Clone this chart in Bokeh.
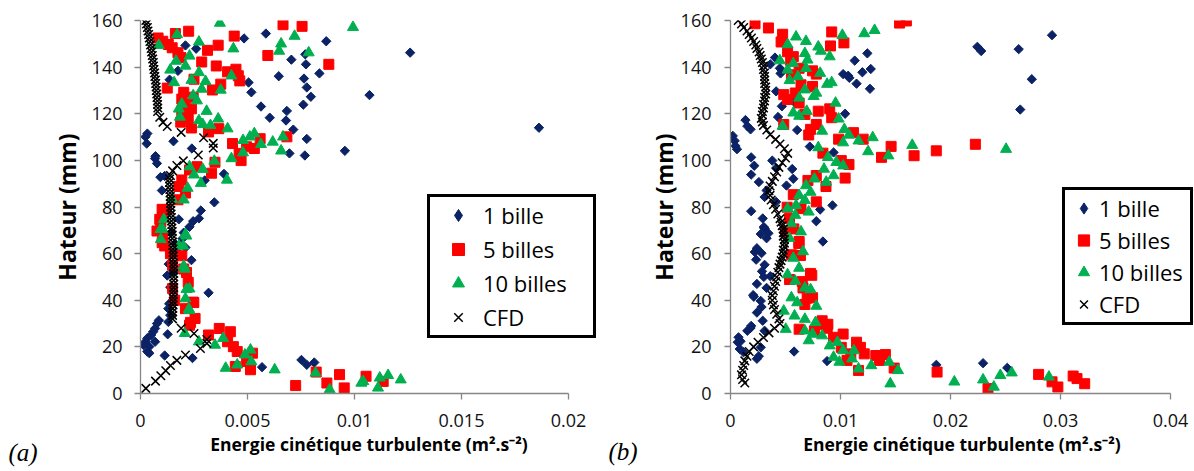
import numpy as np
from bokeh.plotting import figure
from bokeh.layouts import row
from bokeh.models import Range1d, FixedTicker, Legend, LegendItem, Label, PrintfTickFormatter
from bokeh.embed import file_html
from bokeh.resources import INLINE

# ---------------- data ----------------
SERIES = ["1 bille", "5 billes", "10 billes", "CFD"]
Y_TICKS = [0, 20, 40, 60, 80, 100, 120, 140, 160]
XA_TICKS = [0, 0.005, 0.01, 0.015, 0.02]
XA_LABELS = ["0", "0.005", "0.01", "0.015", "0.02"]
XB_TICKS = [0, 0.01, 0.02, 0.03, 0.04]
XB_LABELS = ["0", "0.01", "0.02", "0.03", "0.04"]
X_TITLE = "Energie cinétique turbulente (m².s⁻²)"
Y_TITLE = "Hateur (mm)"

# panel (a) : (k, hauteur)
A_1BILLE = [(0.00586,154.4),(0.00484,152.3),(0.0021,149.3),(0.0026,147.9),(0.00868,151.1),(0.0126,146.2),
    (0.0077,145.5),(0.00705,143.2),(0.00773,141.2),(0.00175,138.4),(0.00836,137.3),(0.00646,136.1),
    (0.00764,135.1),(0.00505,133.4),(0.00777,131.3),(0.00518,129.2),(0.0107,128.0),(0.00796,127.3),
    (0.00761,123.9),(0.00563,123.1),(0.00684,121.2),(0.00604,118.3),(0.0068,117.1),(0.00714,113.2),
    (0.01862,114.0),(0.00032,111.5),(0.00023,110.1),(0.00029,107.2),(0.00154,108.2),(0.00777,109.2),
    (0.00955,104.1),(0.00696,103.0),(0.00768,102.1),(0.0024,105.1),(0.00068,100.8),(0.00077,98.7),
    (0.0039,94.2),(0.00113,93.3),(0.003,91.4),(0.001,87.1),(0.00345,82.0),(0.00282,78.5),(0.00273,75.1),
    (0.00246,73.9),(0.00229,71.5),(0.00202,69.0),(0.00196,66.4),(0.0021,62.6),(0.00175,60.5),(0.00238,57.2),
    (0.00132,55.5),(0.00125,50.6),(0.00154,52.3),(0.00139,45.6),(0.00318,43.2),(0.00134,38.5),(0.0013,36.4),
    (0.00139,33.6),(0.0013,30.7),(0.00086,31.4),(0.00077,30.0),(0.00068,27.9),(0.00059,26.5),(0.0005,25.1),
    (0.00032,23.7),(0.00023,22.2),(0.00014,20.8),(0.00041,20.1),(0.00068,22.2),(0.00032,18.0),(0.00041,17.3),
    (0.00127,25.4),(0.00113,16.3),(0.00243,15.2),(0.00568,11.3),(0.00752,14.4),(0.00777,12.3),(0.00812,13.3),
    (0.00164,64.0),(0.00143,69.0),(0.00179,74.7),(0.00136,134.6),(0.0007,101.8),(0.00093,92.8)]
A_5BILLES = [(0.00666,158.2),(0.00755,157.5),(0.00163,154.4),(0.00225,155.4),(0.00438,153.3),(0.00082,152.5),
    (0.00104,151.1),(0.0013,149.7),(0.00363,149.4),(0.00148,148.3),(0.00313,147.2),(0.00175,146.2),
    (0.00595,145.0),(0.00189,144.1),(0.0088,141.2),(0.00286,142.2),(0.00354,140.5),(0.00446,139.1),
    (0.00407,138.0),(0.00457,136.3),(0.00464,134.1),(0.0025,134.8),(0.00375,132.7),(0.00125,131.0),
    (0.00336,130.2),(0.00202,129.2),(0.00193,126.3),(0.00246,127.1),(0.00207,124.2),(0.00238,122.1),
    (0.00193,120.0),(0.00223,118.3),(0.00188,116.4),(0.00238,113.9),(0.00318,112.2),(0.00366,113.6),
    (0.00559,109.3),(0.00684,110.1),(0.0043,107.2),(0.00496,105.8),(0.00532,105.1),(0.00461,103.0),
    (0.0047,99.9),(0.00348,99.2),(0.00332,94.5),(0.00264,97.3),(0.00229,95.9),(0.00193,91.6),(0.00179,88.8),
    (0.0021,86.0),(0.00175,83.1),(0.00121,78.9),(0.00104,76.1),(0.00095,73.5),(0.00077,69.7),(0.00104,66.9),
    (0.00113,63.3),(0.00193,59.1),(0.00202,53.4),(0.00223,47.7),(0.00246,39.2),(0.0021,36.4),(0.00255,32.2),
    (0.00229,29.3),(0.00318,25.1),(0.00368,27.9),(0.0042,26.5),(0.00407,22.2),(0.00434,20.1),(0.00452,18.0),
    (0.00523,17.3),(0.00496,13.7),(0.00443,11.6),(0.00514,10.2),(0.00725,3.4),(0.00821,9.2),(0.00871,4.5),
    (0.0093,8.1),(0.00952,2.4),(0.01054,7.4),(0.01134,5.2),(0.00101,64.7),(0.0009,74.7),(0.00101,79.0),
    (0.00215,51.9),(0.00249,39.0),(0.00234,30.5),(0.0015,45.0),(0.0015,55.0),(0.0016,40.0),(0.0014,60.0)]
A_10BILLES = [(0.00371,158.9),(0.00993,157.1),(0.00171,154.0),(0.00273,150.8),(0.0072,153.3),(0.00657,150.0),
    (0.00434,147.9),(0.00648,146.9),(0.00786,146.2),(0.00086,149.4),(0.00229,144.8),(0.00166,142.6),
    (0.0021,140.5),(0.00139,138.8),(0.00273,137.7),(0.00425,136.3),(0.00238,134.4),(0.00304,133.9),
    (0.00157,133.4),(0.00286,130.6),(0.00375,130.2),(0.00246,127.8),(0.00264,125.6),(0.00193,124.2),
    (0.00179,122.1),(0.00309,121.1),(0.00184,118.6),(0.00273,117.1),(0.00363,117.8),(0.00291,115.4),
    (0.00327,115.0),(0.00407,113.6),(0.00479,108.6),(0.00532,111.5),(0.00511,110.1),(0.00563,106.9),
    (0.00618,107.9),(0.00666,110.1),(0.00657,104.1),(0.00479,103.3),(0.00425,100.8),(0.00345,99.7),
    (0.00291,96.2),(0.00229,97.3),(0.00404,91.6),(0.0025,93.8),(0.00282,90.2),(0.0022,88.1),(0.00202,83.1),
    (0.00104,70.4),(0.00095,66.1),(0.00214,67.6),(0.00179,63.3),(0.00207,53.4),(0.00229,44.9),(0.0021,40.7),
    (0.00229,35.7),(0.00207,25.8),(0.00273,22.2),(0.00348,20.8),(0.00386,23.7),(0.00398,10.9),(0.00452,12.3),
    (0.00488,16.6),(0.00514,18.7),(0.00518,13.7),(0.00627,10.2),(0.00818,8.8),(0.00884,1.7),(0.01032,4.5),
    (0.0111,2.4),(0.01118,6.7),(0.01157,7.8),(0.01216,5.9),(0.01041,5.2),(0.0021,68.3),(0.002,63.3),
    (0.00202,54.7),(0.00215,44.7),(0.00226,36.2),(0.00093,70.4),(0.00109,74.7),(0.00148,83.3)]
A_CFD = [(0.00025,160),(0.00028,158.5),(0.00032,157),(0.00035,155.5),(0.00038,154),(0.00041,152.5),
    (0.00044,151),(0.00047,149.5),(0.0005,148),(0.00052,146.5),(0.00055,145),(0.00057,143.5),(0.0006,142),
    (0.00061,140.5),(0.00063,139),(0.00066,137.5),(0.00067,136),(0.0007,134.5),(0.00071,133),(0.00073,131.5),
    (0.00074,130),(0.00076,128.5),(0.00077,127),(0.00079,125.5),(0.0008,124),(0.00081,122.5),(0.0008,121),
    (0.0009,118.5),(0.00105,116.3),(0.00125,114.5),(0.0019,112.0),(0.00295,109.7),(0.0034,107.3),
    (0.0034,105.3),(0.0027,102.3),(0.002,99.8),(0.0017,97.8),(0.0015,95.5),(0.0014,93.5),
    (0.00136,92),(0.00135,90.5),(0.00136,89),(0.00137,87.5),(0.00138,86),(0.00139,84.5),(0.0014,83),
    (0.0014,81.5),(0.00141,80),(0.00142,78.5),(0.00143,77),(0.00144,75.5),(0.00145,74),(0.00146,72.5),
    (0.00147,71),(0.00148,69.5),(0.00148,68),(0.00149,66.5),(0.0015,65),(0.00151,63.5),(0.00152,62),
    (0.00152,60.5),(0.00153,59),(0.00153,57.5),(0.00154,56),(0.00154,54.5),(0.00155,53),(0.00155,51.5),
    (0.00155,50),(0.00155,48.5),(0.00155,47),(0.00155,45.5),(0.00154,44),(0.00154,42.5),(0.00153,41),
    (0.00153,39.5),(0.00152,38),(0.00151,36.5),(0.0015,35),(0.0015,33.5),(0.0015,32),
    (0.0019,28.0),(0.0025,25.7),(0.0031,23.2),(0.0031,21.5),(0.0028,19.3),(0.0021,16.5),(0.0017,14.2),
    (0.0014,12.0),(0.00118,9.8),(0.00095,7.6),(0.0007,5.3),(0.00025,2.2)]

# panel (b)
B_1BILLE = [(0.02923,153.7),(0.02244,148.7),(0.02279,146.9),(0.0262,147.7),(0.02739,134.8),(0.02634,121.8),
    (0.01244,145.9),(0.01129,142.8),(0.01275,139.2),(0.01199,137.8),(0.01024,137.0),(0.0107,136.3),
    (0.01146,132.9),(0.01268,130.7),(0.01042,120.0),(0.00404,144.1),(0.00362,141.2),(0.00449,139.5),
    (0.00415,129.6),(0.00467,123.2),(0.00432,118.6),(0.00606,113.0),(0.00721,105.9),(0.00937,103.4),
    (0.00578,125.1),(0.00021,110.5),(0.00038,108.4),(0.00059,104.8),(0.00045,106.2),(0.00136,117.3),
    (0.00153,114.7),(0.00188,101.3),(0.00216,97.7),(0.00188,93.9),(0.00258,90.7),(0.0038,99.9),
    (0.00415,96.7),(0.00561,96.3),(0.00571,92.1),(0.00509,89.2),(0.00328,87.1),(0.0031,84.3),(0.00415,82.2),
    (0.00927,80.7),(0.00815,78.9),(0.0078,73.9),(0.0084,65.2),(0.00188,78.2),(0.00293,75.1),(0.0031,70.8),
    (0.00275,68.4),(0.00328,66.6),(0.00345,68.7),(0.0024,62.3),(0.00282,60.2),(0.00233,57.4),(0.0031,55.2),
    (0.00286,52.4),(0.00362,50.3),(0.0024,47.0),(0.00328,45.3),(0.00206,42.2),(0.00275,39.7),(0.00282,37.1),
    (0.0024,34.7),(0.00293,31.2),(0.00188,29.0),(0.00153,26.9),(0.0031,26.9),(0.00073,24.1),(0.00066,22.0),
    (0.00084,19.1),(0.00118,17.7),(0.0024,14.9),(0.00275,19.8),(0.00578,18.0),(0.00878,13.9),(0.01871,12.3),
    (0.02296,13.0),(0.02516,11.0),(0.00182,113.3),(0.00455,137.3),(0.0108,135.4),(0.00303,71.4),
    (0.00221,60.7),(0.00303,50.0),(0.00212,41.5),(0.00182,28.1),(0.00091,22.4),(0.00257,16.0)]
B_5BILLES = [(0.01537,158.9),(0.01599,159.8),(0.00223,158.6),(0.00345,156.8),(0.00474,154.1),(0.0046,150.8),
    (0.0092,155.1),(0.01031,150.4),(0.00909,149.1),(0.00519,146.6),(0.00571,144.5),(0.00547,142.8),
    (0.00624,139.5),(0.00746,138.4),(0.0078,137.0),(0.00554,136.7),(0.00641,132.4),(0.00746,131.7),
    (0.00484,128.2),(0.00589,128.9),(0.00519,126.1),(0.00624,124.6),(0.00902,122.1),(0.00798,121.1),
    (0.00676,119.7),(0.0092,118.3),(0.00484,115.4),(0.0078,115.4),(0.00728,113.3),(0.00711,110.9),
    (0.01118,111.9),(0.01206,109.1),(0.00983,109.1),(0.0146,106.0),(0.01373,101.3),(0.01669,102.0),
    (0.01871,104.1),(0.02226,106.9),(0.0084,103.1),(0.01007,99.9),(0.01077,98.2),(0.01042,92.4),
    (0.00868,88.8),(0.0078,93.5),(0.00704,91.4),(0.00571,85.3),(0.0078,82.2),(0.00641,79.3),(0.00537,75.1),
    (0.00624,65.2),(0.00502,69.4),(0.00554,59.5),(0.00739,50.7),(0.00537,48.9),(0.00659,45.3),(0.00746,41.1),
    (0.00676,38.2),(0.00624,27.6),(0.00833,31.2),(0.00885,29.7),(0.00763,26.9),(0.00937,24.1),(0.01024,25.5),
    (0.01146,22.0),(0.01181,19.8),(0.01007,19.8),(0.01094,17.0),(0.01216,17.0),(0.01321,16.3),(0.01408,16.7),
    (0.01355,14.2),(0.01059,14.2),(0.01164,9.9),(0.01488,10.9),(0.01878,9.2),(0.02801,8.2),(0.02923,5.0),
    (0.02976,2.8),(0.02341,2.1),(0.03115,7.5),(0.0315,6.4),(0.0322,4.2),(0.00515,79.9),(0.00576,70.6),
    (0.00621,64.3),(0.00636,59.2),(0.00727,51.5),(0.00652,48.0),(0.00697,40.9),(0.00848,29.5),(0.00879,28.0)]
B_10BILLES = [(0.0131,155.8),(0.01216,154.4),(0.01017,153.7),(0.00596,153.0),(0.00686,151.1),(0.00519,149.7),
    (0.00798,148.7),(0.00822,146.9),(0.00676,145.9),(0.00902,144.5),(0.00449,142.8),(0.007,143.1),
    (0.00571,141.6),(0.00519,138.8),(0.00686,139.5),(0.00815,137.4),(0.00613,136.0),(0.00537,134.3),
    (0.00878,132.7),(0.0092,133.4),(0.00676,130.3),(0.0078,128.9),(0.00624,126.8),(0.00756,127.5),
    (0.00955,124.6),(0.00571,120.4),(0.00693,121.1),(0.00624,119.0),(0.00983,117.8),(0.00474,114.7),
    (0.00833,112.6),(0.01035,113.3),(0.01077,110.9),(0.01164,108.4),(0.01293,109.8),(0.01024,107.6),
    (0.01251,103.8),(0.01436,102.0),(0.01652,106.5),(0.02505,104.8),(0.00798,105.5),(0.00885,101.3),
    (0.00962,99.2),(0.01024,97.7),(0.0085,96.3),(0.00937,93.5),(0.00763,92.1),(0.0087,90.7),(0.00686,89.2),
    (0.00728,86.4),(0.00624,85.0),(0.00676,82.9),(0.00596,80.7),(0.00711,77.9),(0.00519,79.3),(0.00589,76.5),
    (0.00554,72.9),(0.00641,69.4),(0.00537,66.6),(0.00659,60.9),(0.00571,58.1),(0.00624,53.8),(0.00519,51.0),
    (0.00589,48.2),(0.00676,45.3),(0.00728,44.6),(0.00554,41.1),(0.00606,39.0),(0.0078,37.5),(0.00484,35.4),
    (0.00582,33.3),(0.00676,31.9),(0.00773,30.5),(0.00502,27.6),(0.00676,26.9),(0.00746,25.5),(0.00833,24.8),
    (0.00711,22.7),(0.00902,20.5),(0.00972,22.0),(0.01024,18.4),(0.01122,18.4),(0.0099,13.5),(0.00937,15.6),
    (0.01105,14.9),(0.01164,10.6),(0.0128,12.0),(0.01443,13.5),(0.01523,9.9),(0.01453,4.2),(0.02035,5.0),
    (0.02296,5.9),(0.02394,2.8),(0.02453,7.8),(0.02557,8.9),(0.02895,7.1)]
B_CFD = [(0.0007,160),(0.001,158.5),(0.0012,157),(0.0015,155.5),(0.0017,154),(0.0019,152.5),(0.0021,151),
    (0.0023,149.5),(0.0024,148),(0.0026,146.5),(0.0027,145),(0.0028,143.5),(0.0029,142),(0.003,140.5),
    (0.003,139),(0.0031,137.5),(0.0031,136),(0.0031,134.5),(0.0031,133),(0.0032,131.5),(0.0032,130),
    (0.0032,128.5),(0.0031,127),(0.0031,125.5),(0.003,124),(0.003,122.5),(0.0029,121),(0.0029,119.5),
    (0.0028,118),(0.0029,116.5),(0.003,115),(0.0033,113),(0.0036,111),(0.0041,109),(0.0045,107),(0.0049,105),
    (0.0052,103),(0.005,101),(0.0047,99),(0.0044,97),(0.0042,95),(0.004,93),(0.0038,91),(0.0036,89),
    (0.0035,87),(0.0036,85),(0.0037,83),(0.0039,81),(0.0041,79),(0.0043,77),(0.0045,75),(0.0046,73.5),
    (0.0047,72),(0.0048,70.5),(0.0048,69),(0.0048,67.5),(0.0049,66),(0.0049,64.5),(0.0049,63),(0.0048,61.5),
    (0.0048,60),(0.0047,58.5),(0.0046,57),(0.0045,55.5),(0.0044,54),(0.0043,52),(0.0042,50),(0.0041,48),
    (0.004,46),(0.0039,44),(0.0038,42),(0.0038,40),(0.0039,38),(0.004,36),(0.0042,34),(0.0044,32),
    (0.0045,30),(0.004,28),(0.0035,26),(0.003,24),(0.0025,22),(0.0021,20),(0.0017,18),(0.0015,16),
    (0.0013,14),(0.0012,12),(0.0011,10),(0.001,8),(0.0011,6),(0.0013,4.5)]

NAVY, RED, GREEN = "#0B2366", "#FF0000", "#00B050"
FONT = "Open Sans"
FIG_H = 470


def xy(pts):
    return [p[0] for p in pts], [p[1] for p in pts]


def make_panel(width, xmax, xticks, xlabels, series, tag, cfg):
    # frame extends a little past the last tick so the legend fits; axis line stops at last tick
    px_frame = width - cfg["ml"] - cfg["mr"]
    x_end = xmax * px_frame / cfg["axis_px"]
    p = figure(width=width, height=FIG_H, x_range=Range1d(0, x_end), y_range=Range1d(0, 160),
               output_backend="svg", toolbar_location=None, tools="",
               min_border_left=cfg["ml"], min_border_right=cfg["mr"],
               min_border_top=cfg["mt"], min_border_bottom=cfg["mb"])
    p.outline_line_color = None
    p.xgrid.visible = False
    p.ygrid.visible = False
    p.background_fill_color = "white"

    p.xaxis.ticker = FixedTicker(ticks=xticks)
    p.xaxis.formatter = PrintfTickFormatter(format="%g")
    p.xaxis.major_label_overrides = {t: l for t, l in zip(xticks, xlabels)}
    p.xaxis.bounds = (0, xmax)
    p.yaxis.ticker = FixedTicker(ticks=Y_TICKS)
    p.xaxis.axis_label = X_TITLE
    p.yaxis.axis_label = Y_TITLE
    for ax in (p.xaxis[0], p.yaxis[0]):
        ax.axis_line_color = "#868686"
        ax.axis_line_width = 1.3
        ax.major_tick_line_color = "#868686"
        ax.major_tick_line_width = 1.3
        ax.major_tick_out = 6
        ax.major_tick_in = 0
        ax.minor_tick_line_color = None
        ax.major_label_text_font = FONT
        ax.major_label_text_font_size = "18px"
        ax.major_label_text_color = "#111111"
        ax.axis_label_text_font = FONT
        ax.axis_label_text_font_style = "bold"
        ax.axis_label_text_color = "black"
    p.xaxis.axis_label_text_font_size = "17.5px"
    p.yaxis.axis_label_text_font_size = "23px"
    p.xaxis.major_label_standoff = cfg["xls"]
    p.xaxis.axis_label_standoff = cfg["xts"]
    p.yaxis.major_label_standoff = cfg["yls"]
    p.yaxis.axis_label_standoff = cfg["yts"]

    s1, s5, s10, scfd = series
    x, y = xy(s1)
    r1 = p.scatter(x, y, marker="square", angle=np.pi / 4, size=6.6,
                   fill_color=NAVY, line_color=NAVY)
    x, y = xy(s5)
    r5 = p.scatter(x, y, marker="square", size=10, fill_color=RED, line_color=RED)
    x, y = xy(s10)
    r10 = p.scatter(x, y, marker="triangle", size=11, fill_color=GREEN, line_color=GREEN)
    x, y = xy(scfd)
    rc = p.scatter(x, y, marker="x", size=12, line_color="black", line_width=1.5)
    # legend-only diamond symbol (not-a-number position: never drawn in the frame)
    rleg = p.scatter([np.nan], [np.nan], marker="diamond", size=10, fill_color=NAVY, line_color=NAVY)

    legend = Legend(items=[LegendItem(label=SERIES[0], renderers=[rleg]),
                           LegendItem(label=SERIES[1], renderers=[r5]),
                           LegendItem(label=SERIES[2], renderers=[r10]),
                           LegendItem(label=SERIES[3], renderers=[rc])],
                    location=cfg["loc"], orientation="vertical",
                    border_line_color="black", border_line_width=3, border_line_alpha=1,
                    background_fill_color="white", background_fill_alpha=1,
                    padding=cfg["pad"], spacing=cfg["sp"], margin=0,
                    glyph_width=cfg["gw"], glyph_height=cfg["gh"],
                    label_height=cfg["gh"], label_width=cfg["lw"],
                    label_standoff=cfg["ls"],
                    label_text_font=FONT, label_text_font_size="22px",
                    label_text_color="black")
    p.add_layout(legend, "center")

    p.add_layout(Label(x=cfg["tagx"], y=cfg["tagy"], x_units="canvas", y_units="canvas",
                       text=tag, text_font="Liberation Serif", text_font_style="italic",
                       text_font_size="25px", text_baseline="middle", text_color="black"), "left")
    return p


cfg_a = dict(ml=140, mr=0, mt=20, mb=76, axis_px=428, xls=14, xts=2, yls=12, yts=6,
             loc=(287, 55), pad=3, sp=4, gw=50, gh=30, lw=107, ls=0,
             tagx=8, tagy=452)
cfg_b = dict(ml=133, mr=0, mt=17, mb=77, axis_px=440, xls=14, xts=2, yls=13, yts=-2,
             loc=(332, 68), pad=3, sp=2, gw=31, gh=28, lw=88, ls=0,
             tagx=11, tagy=451)

pa = make_panel(597, 0.02, XA_TICKS, XA_LABELS, (A_1BILLE, A_5BILLES, A_10BILLES, A_CFD), "(a)", cfg_a)
pb = make_panel(596, 0.04, XB_TICKS, XB_LABELS, (B_1BILLE, B_5BILLES, B_10BILLES, B_CFD), "(b)", cfg_b)

layout = row(pa, pb)
open("out.html", "w").write(file_html(layout, INLINE))
